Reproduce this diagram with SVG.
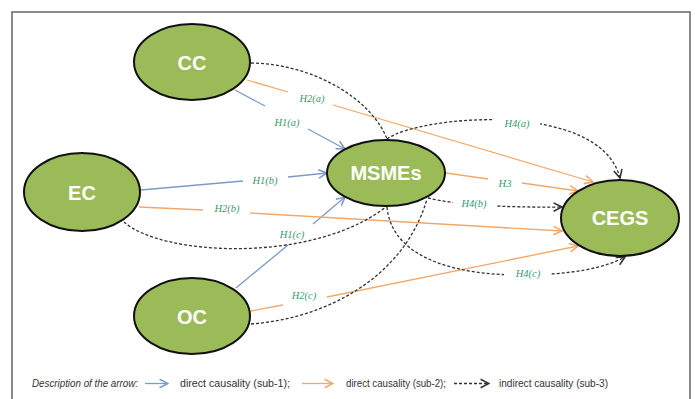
<svg xmlns="http://www.w3.org/2000/svg" width="696" height="399" viewBox="0 0 696 399">
<defs>
<marker id="ab" markerUnits="userSpaceOnUse" markerWidth="12" markerHeight="12" viewBox="-9 -5 10 10" refX="0" refY="0" orient="auto"><path d="M-7,-3.5 L0,0 L-7,3.5" fill="none" stroke="#7b9bc6" stroke-width="1.3"/></marker>
<marker id="ao" markerUnits="userSpaceOnUse" markerWidth="12" markerHeight="12" viewBox="-9 -5 10 10" refX="0" refY="0" orient="auto"><path d="M-7,-3.5 L0,0 L-7,3.5" fill="none" stroke="#f3a868" stroke-width="1.3"/></marker>
<marker id="ak" markerUnits="userSpaceOnUse" markerWidth="12" markerHeight="12" viewBox="-9 -5 10 10" refX="0" refY="0" orient="auto"><path d="M-7,-3.5 L0,0 L-7,3.5" fill="none" stroke="#333" stroke-width="1.3" stroke-dasharray="none"/></marker>
</defs>
<style>
.node ellipse{fill:#9bbb59;stroke:#111;stroke-width:2}
.node text{fill:#fff;font-family:"Liberation Sans",Arial,sans-serif;font-weight:bold;font-size:20px;text-anchor:middle}
.b{fill:none;stroke:#7b9bc6;stroke-width:1.3}
.o{fill:none;stroke:#f3a868;stroke-width:1.3}
.d{fill:none;stroke:#333;stroke-width:1.3;stroke-dasharray:3 2}
.lbl{font-family:"Liberation Serif","Times New Roman",serif;font-style:italic;font-size:10.5px;fill:#3a9a70;text-anchor:middle}
.bg{fill:#fff}
.leg{font-family:"Liberation Sans",Arial,sans-serif;font-size:10px;fill:#333}
</style>
<rect x="12" y="12" width="678" height="400" fill="#fff" stroke="#666" stroke-width="1.5"/>
<g id="connectors">
<path class="b" d="M235,90 L265,106"/>
<path class="b" d="M308,129 L345,149" marker-end="url(#ab)"/>
<path class="b" d="M141,190 L243,181"/>
<path class="b" d="M288,177 L327,173" marker-end="url(#ab)"/>
<path class="b" d="M236,288 L288,245"/>
<path class="b" d="M313,224 L345,197" marker-end="url(#ab)"/>
<path class="o" d="M247,80 L288,92"/>
<path class="o" d="M333,105 L593,182" marker-end="url(#ao)"/>
<path class="o" d="M139,207 L203,210"/>
<path class="o" d="M250,213 L562,231" marker-end="url(#ao)"/>
<path class="o" d="M446,173 L488,179"/>
<path class="o" d="M522,183 L578,191" marker-end="url(#ao)"/>
<path class="o" d="M251,311 L283,305"/>
<path class="o" d="M327,297 L578,246" marker-end="url(#ao)"/>
<path class="d" d="M251,63 C315,64 372,100 387,139"/>
<path class="d" d="M124,222 C160,255 310,265 386,207"/>
<path class="d" d="M251,324 C330,318 405,275 427,199"/>
<path class="d" d="M387,139 C420,115 600,100 620,178" marker-end="url(#ak)"/>
<path class="d" d="M428,198 Q470,208 562,207" marker-end="url(#ak)"/>
<path class="d" d="M387,207 C392,260 460,275 520,275 C570,275 605,268 625,257" marker-end="url(#ak)"/>
<rect class="bg" x="494" y="114" width="46" height="16"/>
<rect class="bg" x="453" y="196" width="43" height="14"/>
<rect class="bg" x="504" y="266" width="46" height="16"/>
<text class="lbl" x="312" y="102">H2(a)</text>
<text class="lbl" x="287" y="126">H1(a)</text>
<text class="lbl" x="265" y="184">H1(b)</text>
<text class="lbl" x="227" y="212">H2(b)</text>
<text class="lbl" x="292" y="238">H1(c)</text>
<text class="lbl" x="304" y="299">H2(c)</text>
<text class="lbl" x="505" y="187">H3</text>
<text class="lbl" x="517" y="127">H4(a)</text>
<text class="lbl" x="474" y="207">H4(b)</text>
<text class="lbl" x="528" y="277">H4(c)</text>
</g>
<g id="CC" class="node"><ellipse cx="192" cy="62" rx="58" ry="38"/><text x="192" y="70">CC</text></g>
<g id="EC" class="node"><ellipse cx="82" cy="192" rx="58" ry="39"/><text x="82" y="200">EC</text></g>
<g id="OC" class="node"><ellipse cx="192" cy="316" rx="58" ry="38"/><text x="192" y="324">OC</text></g>
<g id="MSMEs" class="node"><ellipse cx="386" cy="173" rx="59" ry="33"/><text x="386" y="180">MSMEs</text></g>
<g id="CEGS" class="node"><ellipse cx="620" cy="218" rx="59" ry="38"/><text x="620" y="225">CEGS</text></g>
<g id="legend">
<text class="leg" x="32" y="387" font-style="italic" textLength="106" lengthAdjust="spacingAndGlyphs">Description of the arrow:</text>
<path class="b" d="M145,383.5 L168,383.5" marker-end="url(#ab)"/>
<text class="leg" x="180" y="387" textLength="110" lengthAdjust="spacingAndGlyphs">direct causality (sub-1);</text>
<path class="o" d="M302,383.5 L333,383.5" marker-end="url(#ao)"/>
<text class="leg" x="346" y="387" textLength="100" lengthAdjust="spacingAndGlyphs">direct causality (sub-2);</text>
<path class="d" d="M454,383.5 L489,383.5" marker-end="url(#ak)"/>
<text class="leg" x="499" y="387" textLength="109" lengthAdjust="spacingAndGlyphs">indirect causality (sub-3)</text>
</g>
</svg>
